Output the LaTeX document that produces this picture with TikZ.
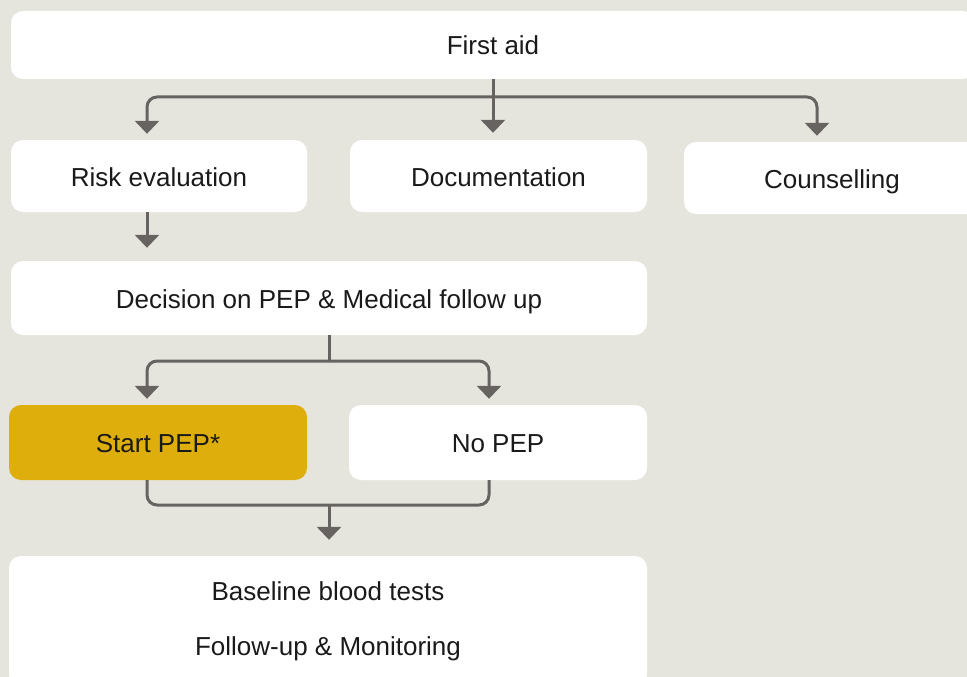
\documentclass[tikz,border=0pt]{standalone}
\usepackage{fontspec}
\setmainfont{Liberation Sans}
\usetikzlibrary{arrows.meta,calc}
\definecolor{bgc}{RGB}{230,229,221}
\definecolor{linec}{RGB}{102,99,97}
\definecolor{goldc}{RGB}{222,175,12}
\definecolor{txtc}{RGB}{26,26,26}
\begin{document}
\begin{tikzpicture}[x=1pt,y=-1pt,
  basebox/.style={draw=none,fill=white,rounded corners=12pt,inner sep=0pt,
    text=txtc,font=\fontsize{26}{30}\selectfont,align=center},
  box/.style={basebox,text height=20pt,text depth=0pt},
  conn/.style={draw=linec,line width=3pt,rounded corners=10pt},
  arr/.style={conn,-{Triangle[width=24pt,length=13pt]}}]
\useasboundingbox (0,0) rectangle (967,677);
\fill[bgc] (0,0) rectangle (967,677);
\node[box,minimum width=964pt,minimum height=68pt] (first) at (493,45) {First aid};
\node[box,minimum width=296pt,minimum height=72pt] (risk) at (159,176) {Risk evaluation};
\node[box,minimum width=297pt,minimum height=72pt] (docs) at (498.5,176) {Documentation};
\node[box,minimum width=296pt,minimum height=72pt] (couns) at (832,178) {Counselling};
\node[box,minimum width=636pt,minimum height=74pt] (dec) at (329,298) {Decision on PEP \& Medical follow up};
\node[box,fill=goldc,minimum width=298pt,minimum height=75pt] (start) at (158,442.5) {Start PEP*};
\node[box,minimum width=298pt,minimum height=75pt] (nopep) at (498,442.5) {No PEP};
\node[basebox,minimum width=638pt,minimum height=130pt,font=\fontsize{26}{55}\selectfont] (bottom) at (328,621) {Baseline blood tests\\Follow-up \& Monitoring};
% top branch
\coordinate (b1) at (first.south |- 0,97);
\draw[arr,shorten >=7pt] (first.south) -- (first.south |- docs.north);
\draw[arr,shorten >=6pt] (b1) -| ([xshift=-12pt]risk.north);
\draw[arr,shorten >=6pt] (b1) -| ([xshift=-15pt]couns.north);
% risk to decision
\draw[arr,shorten >=13pt] ([xshift=-12pt]risk.south) -- ([xshift=-12pt]risk.south |- dec.north);
% decision branch
\coordinate (b2) at (dec.south |- 0,361);
\draw[conn] (dec.south) -- (b2);
\draw[arr,shorten >=6pt] (b2) -| ([xshift=-11pt]start.north);
\draw[arr,shorten >=6pt] (b2) -| ([xshift=-9pt]nopep.north);
% merge
\coordinate (m) at (329,505);
\draw[conn] ([xshift=-11pt]start.south) |- (m) -| ([xshift=-9pt]nopep.south);
\draw[arr,shorten >=16pt] (m) -- (m |- bottom.north);
\end{tikzpicture}
\end{document}
